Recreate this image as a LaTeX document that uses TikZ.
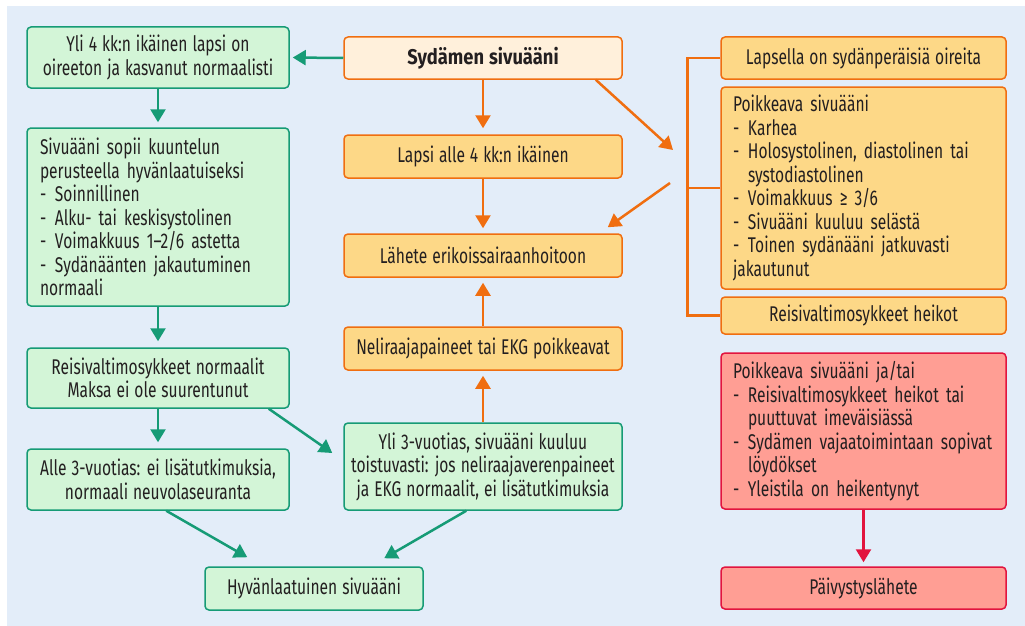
\documentclass[tikz,border=0pt]{standalone}
\usepackage{fontspec}
\setmainfont[FakeStretch=0.73,BoldFeatures={FakeStretch=0.86}]{Fira Sans}
\usetikzlibrary{arrows.meta,calc}
\definecolor{bgblue}{RGB}{227,237,249}
\definecolor{grfill}{RGB}{211,245,215}
\definecolor{grline}{RGB}{22,155,118}
\definecolor{orfill}{RGB}{253,216,135}
\definecolor{orline}{RGB}{240,110,16}
\definecolor{crfill}{RGB}{255,240,219}
\definecolor{rdfill}{RGB}{255,158,148}
\definecolor{rdline}{RGB}{226,20,62}
\definecolor{txt}{RGB}{35,31,32}
\newcommand{\boxfont}{\fontsize{21.3}{23.5}\selectfont\spaceskip=5pt plus 3pt minus 1pt\relax}
\newcommand{\dashitem}{\par\hangindent=15pt\hangafter=1\noindent\makebox[15pt][l]{-}}
\newcommand{\brk}{\unskip\hskip 0pt plus 1filll\break}
\newcommand{\greenbox}[4]{%
 \node[basebox,draw=grline,fill=grfill,#3] ({#1}) at (#2) {#4};%
}
\newcommand{\orangebox}[4]{%
 \node[basebox,draw=orline,fill=orfill,#3] ({#1}) at (#2) {#4};%
}
\newcommand{\redbox}[4]{%
 \node[basebox,draw=rdline,fill=rdfill,#3] ({#1}) at (#2) {#4};%
}

\begin{document}
\begin{tikzpicture}[x=1pt,y=-1pt,
  basebox/.style={rounded corners=4pt,line width=1.5pt,align=center,inner xsep=12pt,
    text=txt,font=\boxfont},
  leftcol/.style={minimum width=262pt},
  midcol/.style={minimum width=278pt},
  rightcol/.style={minimum width=285pt},
  listbox/.style={align=left,text width=#1},
  garrow/.style={draw=grline,line width=2.5pt,-{Triangle[width=15pt,length=13pt]}},
  oarrow/.style={draw=orline,line width=2.5pt,-{Triangle[width=15pt,length=13pt]}},
  rarrow/.style={draw=rdline,line width=2.5pt,-{Triangle[width=15pt,length=13pt]}}]
  \useasboundingbox (0,0) rectangle (1025,626);
  \fill[bgblue] (7,6) rectangle (1025,626);
  % middle column
  \orangebox{top}{483,58}{midcol,fill=crfill,minimum height=42pt}{\textbf{Sydämen sivuääni}}
  \orangebox{lapsi}{483,156.5}{midcol,minimum height=43pt}{Lapsi alle 4 kk:n ikäinen}
  \orangebox{lahete}{483,255.5}{midcol,minimum height=43pt}{Lähete erikoissairaanhoitoon}
  \orangebox{neli}{483,348.5}{midcol,minimum height=43pt}{Neliraajapaineet tai EKG poikkeavat}
  \greenbox{yli3}{483,466.5}{midcol,minimum height=87pt,inner xsep=4pt}{Yli 3-vuotias, sivuääni kuuluu\\toistuvasti: jos neliraajaverenpaineet\\ja EKG normaalit, ei lisätutkimuksia}
  % left column
  \greenbox{yli4}{158,57.5}{leftcol,minimum height=61pt}{Yli 4 kk:n ikäinen lapsi on\\oireeton ja kasvanut normaalisti}
  \greenbox{hyva}{158,217}{leftcol,minimum height=178pt,inner xsep=13pt,listbox=236pt}{Sivuääni sopii kuuntelun\brk perusteella hyvänlaatuiseksi
    \dashitem Soinnillinen
    \dashitem Alku- tai keskisystolinen
    \dashitem Voimakkuus 1–2/6 astetta
    \dashitem Sydänäänten jakautuminen\brk normaali}
  \greenbox{reisi}{158,378}{leftcol,minimum height=60pt}{Reisivaltimosykkeet normaalit\\Maksa ei ole suurentunut}
  \greenbox{alle3}{158,479.5}{leftcol,minimum height=61pt,inner xsep=4pt}{Alle 3-vuotias: ei lisätutkimuksia,\\normaali neuvolaseuranta}
  \greenbox{hyvan}{314,588.5}{minimum width=218pt,minimum height=43pt}{Hyvänlaatuinen sivuääni}
  % right column
  \orangebox{oireet}{863.5,58}{rightcol,minimum height=42pt}{Lapsella on sydänperäisiä oireita}
  \orangebox{poikk}{863.5,188}{rightcol,minimum height=202pt,listbox=261pt}{Poikkeava sivuääni
    \dashitem Karhea
    \dashitem Holosystolinen, diastolinen tai\brk systodiastolinen
    \dashitem Voimakkuus ≥ 3/6
    \dashitem Sivuääni kuuluu selästä
    \dashitem Toinen sydänääni jatkuvasti\brk jakautunut}
  \orangebox{heikot}{863.5,315.5}{rightcol,minimum height=37pt}{Reisivaltimosykkeet heikot}
  \redbox{paiv}{863.5,431}{rightcol,minimum height=156pt,listbox=261pt}{Poikkeava sivuääni ja/tai
    \dashitem Reisivaltimosykkeet heikot tai\brk puuttuvat imeväisiässä
    \dashitem Sydämen vajaatoimintaan sopivat\brk löydökset
    \dashitem Yleistila on heikentynyt}
  \redbox{lahete2}{863.5,588}{rightcol,minimum height=42pt}{Päivystyslähete}
  % bracket
  \draw[orline,line width=2.5pt] (oireet.west) -- ++(-33,0) |- (heikot.west);
  \draw[orline,line width=2.5pt] (poikk.west) -- ++(-33,0);
  \coordinate (brkin) at (673,150);
  \coordinate (brkout) at (670,183);
  % arrows
  \draw[garrow,shorten >=3pt] (top.west) -- (yli4.east);
  \draw[garrow,shorten >=5pt] (yli4) -- (hyva);
  \draw[garrow,shorten >=6pt] (hyva) -- (reisi);
  \draw[garrow,shorten >=6pt] (reisi) -- (alle3);
  \draw[garrow] ($(reisi.south east)+(-21,0)$) -- ($(yli3.west)+(-11,-13.5)$);
  \draw[garrow] ($(alle3.south west)+(140,0)$) -- ($(hyvan.north west)+(43,-9)$);
  \draw[garrow] ($(yli3.south west)+(123,0)$) -- ($(hyvan.north west)+(180,-8)$);
  \draw[oarrow,shorten >=6pt] (top) -- (lapsi);
  \draw[oarrow,shorten >=5pt] (lapsi) -- (lahete);
  \draw[oarrow,shorten >=5pt] (yli3) -- (neli);
  \draw[oarrow,shorten >=5pt] (neli) -- (lahete);
  \draw[oarrow] ($(top.south east)+(-27,0)$) -- (brkin);
  \draw[oarrow] (brkout) -- ($(lahete.north east)+(-15,-6)$);
  \draw[rarrow,shorten >=4pt] (paiv) -- (lahete2);
\end{tikzpicture}
\end{document}
